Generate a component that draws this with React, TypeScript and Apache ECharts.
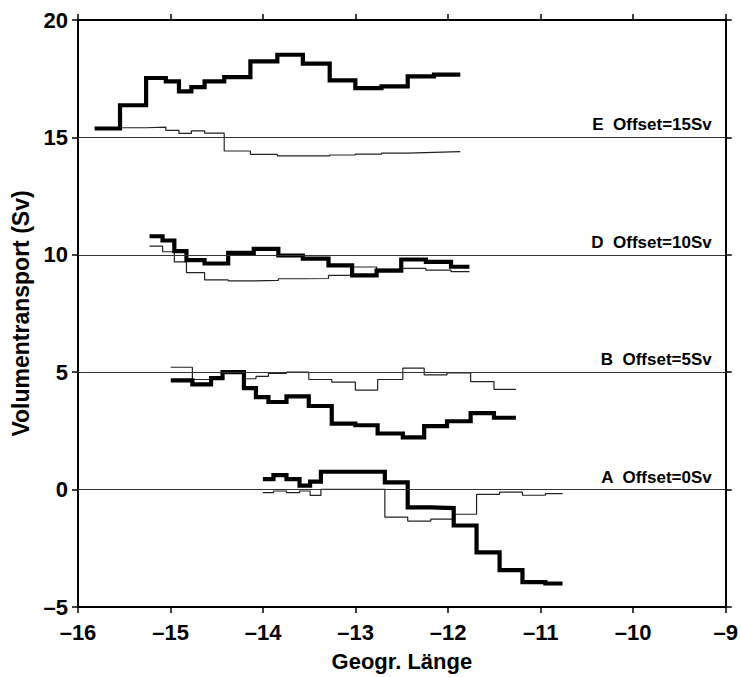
import React, { useEffect, useRef } from "react";
import * as echarts from "echarts";

// Longitude edges of the step intervals for each section
const E_edges = [-15.82, -15.546, -15.264, -15.051, -14.909, -14.775, -14.632, -14.42, -14.137, -13.846, -13.57, -13.28, -13.003, -12.72, -12.437, -12.153, -11.869];
const E_thick = [15.38, 16.37, 17.53, 17.39, 16.96, 17.14, 17.39, 17.57, 18.24, 18.52, 18.14, 17.43, 17.1, 17.17, 17.6, 17.67];
const E_thin = [15.41, 15.41, 15.44, 15.3, 15.17, 15.28, 15.18, 14.42, 14.28, 14.21, 14.21, 14.25, 14.29, 14.33, 14.36, 14.39];

const D_edges = [-15.227, -15.086, -14.959, -14.828, -14.632, -14.377, -14.101, -13.835, -13.57, -13.293, -13.038, -12.773, -12.507, -12.241, -11.969, -11.77];
const D_thick = [10.79, 10.61, 10.16, 9.77, 9.63, 10.08, 10.25, 9.97, 9.84, 9.55, 9.12, 9.33, 9.8, 9.7, 9.49];
const D_thin = [10.37, 10.13, 9.7, 9.24, 8.93, 8.89, 8.91, 8.98, 8.99, 9.12, 9.48, 9.38, 9.42, 9.35, 9.28];

const B_edges = [-14.998, -14.764, -14.562, -14.438, -14.207, -14.077, -13.942, -13.747, -13.506, -13.258, -13.003, -12.762, -12.49, -12.259, -12.012, -11.757, -11.505, -11.268];
const B_thick = [4.65, 4.48, 4.75, 5.0, 4.32, 3.94, 3.73, 3.97, 3.56, 2.81, 2.74, 2.39, 2.22, 2.7, 2.91, 3.26, 3.06];
const B_thin = [5.21, 4.69, 4.8, 4.97, 4.72, 4.82, 4.95, 5.0, 4.69, 4.58, 4.24, 4.69, 5.17, 4.89, 4.97, 4.6, 4.27];

const A_edges = [-14.002, -13.888, -13.747, -13.606, -13.492, -13.375, -12.684, -12.437, -12.188, -11.94, -11.693, -11.444, -11.197, -10.949, -10.764];
const A_thick = [0.45, 0.62, 0.45, 0.17, 0.34, 0.76, 0.31, -0.76, -0.79, -1.53, -2.67, -3.43, -3.94, -4.0];
const A_thin = [-0.13, -0.06, -0.13, -0.06, -0.25, 0.01, -1.17, -1.34, -1.26, -1.05, -0.2, -0.11, -0.24, -0.17];

const offsetValues = [0, 5, 10, 15];
const offsetLabels = ["A  Offset=0Sv", "B  Offset=5Sv", "D  Offset=10Sv", "E  Offset=15Sv"];

const xTicks = { min: -16, max: -9, interval: 1 };
const yTicks = { min: -5, max: 20, interval: 5 };

const FONT = "'Liberation Sans', Arial, Helvetica, sans-serif";

function steps(edges: number[], vals: number[]) {
  const d: number[][] = vals.map((v, i) => [edges[i], v]);
  d.push([edges[edges.length - 1], vals[vals.length - 1]]);
  return d;
}

const fmt = (v: number) => String(v).replace("-", "\u2013");

export default function App() {
  const ref = useRef<HTMLDivElement>(null);
  useEffect(() => {
    if (!ref.current) return;
    const chart = echarts.init(ref.current, undefined, { renderer: "svg" });
    const axisLine = { show: true, onZero: false, lineStyle: { color: "#000", width: 2 } };
    const axisTick = { show: true, inside: false, length: 6, lineStyle: { color: "#000", width: 1.5 } };
    const lab = { color: "#000", fontFamily: FONT, fontWeight: "bold" as const, fontSize: 22 };
    const thin = (name: string, edges: number[], vals: number[], extra: any = {}) => ({
      name, type: "line", step: "end", symbol: "none", data: steps(edges, vals),
      lineStyle: { color: "#222", width: 1.2 }, silent: true, z: 3, ...extra,
    });
    const thick = (name: string, edges: number[], vals: number[]) => ({
      name, type: "line", step: "end", symbol: "none", data: steps(edges, vals),
      lineStyle: { color: "#000", width: 4.2, join: "miter" }, silent: true, z: 4,
    });
    chart.setOption({
      animation: false,
      backgroundColor: "#fff",
      grid: { left: 78, right: 4, top: 20, bottom: 62 },
      xAxis: [
        {
          type: "value", ...xTicks, position: "bottom",
          axisLine, axisTick, splitLine: { show: false },
          axisLabel: { ...lab, margin: 14, formatter: fmt },
          name: "Geogr. L\u00e4nge", nameLocation: "middle", nameGap: 43,
          nameTextStyle: { ...lab, fontSize: 22 },
        },
        {
          type: "value", ...xTicks, position: "top",
          axisLine, axisTick, splitLine: { show: false }, axisLabel: { show: false },
        },
      ],
      yAxis: [
        {
          type: "value", ...yTicks, position: "left",
          axisLine, axisTick, splitLine: { show: false },
          axisLabel: { ...lab, margin: 10, formatter: fmt },
          name: "Volumentransport (Sv)", nameLocation: "middle", nameGap: 46,
          nameTextStyle: { ...lab, fontSize: 23 },
        },
        {
          type: "value", ...yTicks, position: "right",
          axisLine, axisTick, splitLine: { show: false }, axisLabel: { show: false },
        },
      ],
      series: [
        thin("E thin", E_edges, E_thin, {
          markLine: {
            silent: true, symbol: "none",
            lineStyle: { color: "#333", width: 1, type: "solid" },
            label: {
              show: true, position: "insideEndTop", distance: [14, 4],
              color: "#000", fontFamily: FONT, fontWeight: "bold", fontSize: 17,
            },
            data: offsetValues.map((v, i) => ({ yAxis: v, label: { formatter: offsetLabels[i] } })),
          },
        }),
        thin("D thin", D_edges, D_thin),
        thin("B thin", B_edges, B_thin),
        thin("A thin", A_edges, A_thin),
        thick("E", E_edges, E_thick),
        thick("D", D_edges, D_thick),
        thick("B", B_edges, B_thick),
        thick("A", A_edges, A_thick),
      ],
    });
    return () => chart.dispose();
  }, []);
  return <div ref={ref} style={{ width: 741, height: 677, position: "absolute", left: 0, top: 0 }} />;
}
